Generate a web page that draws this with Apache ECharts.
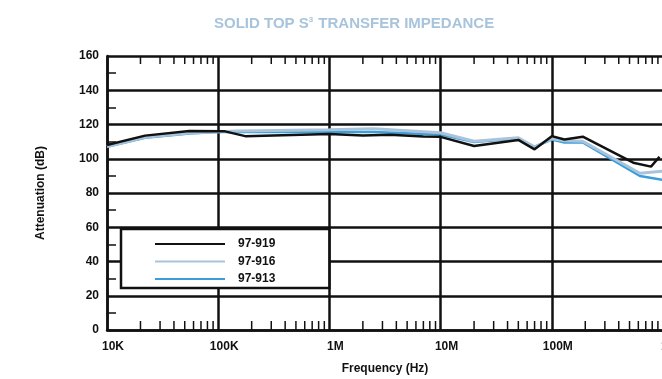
<!DOCTYPE html>
<html>
<head>
<meta charset="utf-8">
<script src="https://cdn.jsdelivr.net/npm/echarts@6/dist/echarts.min.js"></script>
<style>
  html, body { margin: 0; padding: 0; background: #fff; }
  #chart { width: 662px; height: 379px; }
</style>
</head>
<body>
<div id="chart"></div>
<script>
// Frequency axis decade labels
const decadeValues = [1e4, 1e5, 1e6, 1e7, 1e8, 1e9];
const decadeLabels = ['10K', '100K', '1M', '10M', '100M', '1G'];
const minorMultipliers = [2, 3, 4, 5, 6, 7, 8, 9];

// 97-919
const freq919 = [1e4, 2.2e4, 5.5e4, 1.15e5, 1.75e5, 1e6, 2e6, 3.5e6, 7e6, 1e7, 2e7, 5e7, 7e7, 1e8, 1.3e8, 1.9e8, 5.4e8, 7.8e8, 9.3e8];
const atten919 = [108, 113.5, 116.2, 116, 113.2, 114.5, 113.6, 114, 113, 112.8, 107.4, 111, 105.5, 113.2, 111.2, 112.9, 97.7, 95.4, 101.2];

// 97-916
const freq916 = [1e4, 2.2e4, 5.5e4, 1e5, 1.5e5, 1e6, 2.5e6, 1e7, 2e7, 5e7, 7e7, 1e8, 1.3e8, 1.9e8, 6.2e8, 1e9];
const atten916 = [107.2, 112.5, 115, 115.8, 116.2, 117, 117.5, 115.2, 110.2, 112.3, 106.8, 111.8, 110.5, 110.2, 91.5, 92.8];

// 97-913
const freq913 = [1e4, 2.2e4, 5.5e4, 1e5, 1.5e5, 1e6, 2.5e6, 1e7, 2e7, 5e7, 7e7, 1e8, 1.3e8, 1.9e8, 6.2e8, 1e9];
const atten913 = [107, 112.3, 114.8, 115.6, 115.6, 115.7, 115.6, 114.2, 109.8, 111.8, 107, 111.2, 109.5, 109.5, 89.9, 87.6];

const pair = (xs, ys) => xs.map((x, i) => [x, ys[i]]);

// Minor log ticks (2..9 within each decade)
const minorFreqs = [];
decadeValues.slice(0, -1).forEach(d => minorMultipliers.forEach(m => minorFreqs.push(d * m)));

const FONT = '"Liberation Sans", Arial, sans-serif';
const INK = '#111';
const TITLE_BLUE = '#a8c4dc';

const chart = echarts.init(document.getElementById('chart'));
chart.setOption({
  animation: false,
  title: {
    text: '{a|SOLID TOP S}{s|3}{a| TRANSFER IMPEDANCE}',
    left: 209,
    top: 11,
    textStyle: {
      rich: {
        a: { color: TITLE_BLUE, fontFamily: FONT, fontWeight: 'bold', fontSize: 15 },
        s: { color: TITLE_BLUE, fontFamily: FONT, fontWeight: 'bold', fontSize: 8, verticalAlign: 'top', padding: [0, 1, 7, 0] }
      }
    }
  },
  grid: { left: 107, top: 56, width: 556, bottom: 49, containLabel: false, outerBoundsMode: 'none' },
  legend: {
    data: ['97-919', '97-916', '97-913'],
    orient: 'vertical',
    left: 121,
    top: 229,
    padding: [9, 54, 3, 33],
    itemWidth: 70,
    itemHeight: 14,
    itemGap: 5.5,
    itemStyle: { opacity: 0 },
    backgroundColor: '#fff',
    borderColor: INK,
    borderWidth: 2.5,
    borderRadius: 0,
    textStyle: { fontFamily: FONT, fontWeight: 'bold', fontSize: 12, color: INK, padding: [0, 0, 0, 8] }
  },
  xAxis: {
    type: 'log',
    logBase: 10,
    min: 1e4,
    max: 1e9,
    name: 'Frequency (Hz)',
    nameLocation: 'middle',
    nameGap: 33,
    nameTextStyle: { fontFamily: FONT, fontWeight: 'bold', fontSize: 12, color: INK },
    axisLine: { lineStyle: { color: INK, width: 2.5 } },
    axisTick: { show: false },
    splitLine: { show: true, lineStyle: { color: INK, width: 2.5 } },
    axisLabel: {
      margin: 11,
      fontFamily: FONT, fontWeight: 'bold', fontSize: 12, color: INK,
      padding: [0, 0, 0, 12],
      formatter: v => {
        const i = decadeValues.findIndex(d => Math.abs(Math.log10(d) - Math.log10(v)) < 1e-6);
        return i >= 0 ? decadeLabels[i] : '';
      }
    }
  },
  yAxis: {
    type: 'value',
    min: 0,
    max: 160,
    interval: 20,
    name: 'Attenuation (dB)',
    nameLocation: 'middle',
    nameGap: 60,
    nameTextStyle: { fontFamily: FONT, fontWeight: 'bold', fontSize: 12, color: INK },
    axisLine: { show: true, lineStyle: { color: INK, width: 2.5 } },
    axisTick: { show: false, inside: true },
    minorTick: { show: true, splitNumber: 2, length: 9, lineStyle: { color: INK, width: 1.5 } },
    splitLine: { show: true, lineStyle: { color: INK, width: 2.5 } },
    axisLabel: { margin: 8, fontFamily: FONT, fontWeight: 'bold', fontSize: 12, color: INK }
  },
  series: [
    {
      type: 'custom',
      silent: true,
      z: 3,
      data: minorFreqs.map(f => [f]),
      renderItem: (params, api) => {
        const f = api.value(0);
        const b = api.coord([f, 0]);
        const t = api.coord([f, 160]);
        const style = { stroke: INK, lineWidth: 1.5 };
        return {
          type: 'group',
          children: [
            { type: 'line', shape: { x1: b[0], y1: b[1], x2: b[0], y2: b[1] - 9 }, style },
            { type: 'line', shape: { x1: t[0], y1: t[1], x2: t[0], y2: t[1] + 8 }, style }
          ]
        };
      }
    },
    {
      name: '97-913', type: 'line', data: pair(freq913, atten913),
      symbol: 'none', lineStyle: { color: '#3a9edb', width: 2.5 }, itemStyle: { color: '#3a9edb' }, z: 4
    },
    {
      name: '97-916', type: 'line', data: pair(freq916, atten916),
      symbol: 'none', lineStyle: { color: '#a9c4da', width: 3 }, itemStyle: { color: '#a9c4da' }, z: 5
    },
    {
      name: '97-919', type: 'line', data: pair(freq919, atten919),
      symbol: 'none', lineStyle: { color: INK, width: 2.5 }, itemStyle: { color: INK }, z: 6
    }
  ]
});
</script>
</body>
</html>
